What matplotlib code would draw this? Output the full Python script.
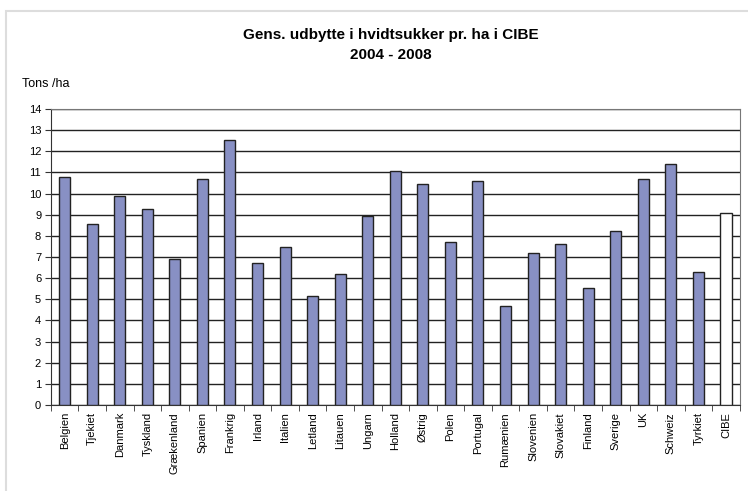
import matplotlib.pyplot as plt
from matplotlib.patches import Rectangle
import numpy as np

plt.rcParams['font.family'] = ['Liberation Sans', 'DejaVu Sans']

countries = ['Belgien', 'Tjekiet', 'Danmark', 'Tyskland', 'Grækenland', 'Spanien',
             'Frankrig', 'Irland', 'Italien', 'Letland', 'Litauen', 'Ungarn',
             'Holland', 'Østrig', 'Polen', 'Portugal', 'Rumænien', 'Slovenien',
             'Slovakiet', 'Finland', 'Sverige', 'UK', 'Schweiz', 'Tyrkiet', 'CIBE']
yields = [10.77, 8.56, 9.87, 9.26, 6.89, 10.69, 12.54, 6.73, 7.47, 5.14, 6.2, 8.96,
          11.08, 10.44, 7.71, 10.6, 4.67, 7.19, 7.63, 5.55, 8.25, 10.69, 11.38, 6.29,
          9.1]

fig = plt.figure(figsize=(7.48, 4.91), dpi=100)
fig.patches.append(Rectangle((0.008, -0.01), 1.0, 0.988, transform=fig.transFigure,
                             fill=False, edgecolor='#dddddd', linewidth=1.5))
ax = fig.add_axes([0.068, 0.175, 0.921, 0.603])

x = np.arange(len(countries))
colors = ['#8890c4'] * (len(countries) - 1) + ['white']
ax.bar(x, yields, width=0.4, color=colors, edgecolor='#222222', linewidth=1.0, zorder=3)

ax.set_xlim(-0.5, len(countries) - 0.5)
ax.set_ylim(0, 14)
ax.set_yticks(range(0, 15))
ax.yaxis.grid(True, color='#222222', linewidth=1.0, zorder=0)
ax.set_xticks(x)
ax.set_xticklabels(countries, rotation=90, fontsize=8)
ax.tick_params(axis='x', which='major', length=0, pad=5)
ax.set_xticks(np.arange(-0.5, len(countries)), minor=True)
ax.tick_params(axis='x', which='minor', length=4, color='#333333')
ax.tick_params(axis='y', labelsize=8, length=4, color='#333333', pad=3)
for s in ax.spines.values():
    s.set_color('#777777')
ax.spines['left'].set_color('#333333')
ax.spines['bottom'].set_color('#333333')

fig.text(0.523, 0.908, 'Gens. udbytte i hvidtsukker pr. ha i CIBE\n2004 - 2008',
         ha='center', va='center', fontsize=11, fontweight='bold', linespacing=1.55)
fig.text(0.03, 0.828, 'Tons /ha', fontsize=9, va='center')

plt.savefig('out.png')
